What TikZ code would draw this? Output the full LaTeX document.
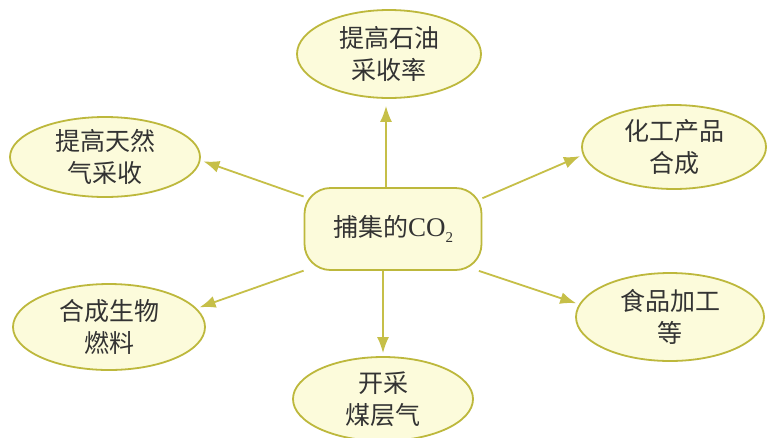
\documentclass[tikz,border=0pt]{standalone}
\usepackage{fontspec}
\setmainfont{Liberation Serif}
\newfontfamily\cjk{Noto Sans CJK SC}
\usetikzlibrary{shapes.geometric,arrows.meta,calc}
\definecolor{edge}{HTML}{BDB83C}
\definecolor{arrowc}{HTML}{C6BF48}
\definecolor{fillc}{HTML}{FCFBDB}
\definecolor{txt}{HTML}{333333}
\tikzset{
  bubble/.style={ellipse, draw=edge, fill=fillc, line width=1.8pt, inner sep=0pt,
    align=center, text=txt, font=\cjk\fontsize{25}{32}\selectfont},
  hub/.style={rectangle, rounded corners=26pt, draw=edge, fill=fillc, line width=1.8pt,
    minimum width=177pt, minimum height=82pt, inner sep=0pt, text=txt,
    font=\cjk\fontsize{25}{32}\selectfont},
  arr/.style={draw=arrowc, line width=1.8pt, -{Latex[length=16pt,width=12pt]}, shorten >=3pt}
}
\begin{document}
\begin{tikzpicture}[x=1pt,y=-1pt]
\useasboundingbox[fill=white] (0,0) rectangle (767,437);
\node[hub] (c) at (393,229) {捕集的{\rmfamily\fontsize{27}{32}\selectfont CO}\raisebox{-6pt}{\rmfamily\fontsize{15}{15}\selectfont 2}};
\node[bubble, minimum width=184pt, minimum height=88pt] (top) at (389,54) {提高石油\\采收率};
\node[bubble, minimum width=190pt, minimum height=80pt] (ul) at (105,157) {提高天然\\气采收};
\node[bubble, minimum width=184pt, minimum height=84pt] (ur) at (674,147) {化工产品\\合成};
\node[bubble, minimum width=192pt, minimum height=86pt] (ll) at (109,327) {合成生物\\燃料};
\node[bubble, minimum width=188pt, minimum height=88pt] (lr) at (670,317) {食品加工\\等};
\node[bubble, minimum width=180pt, minimum height=84pt] (bot) at (383,399) {开采\\煤层气};
\draw[arr, shorten >=7pt] ([xshift=-7pt]c.north) -- ([xshift=-7pt]c.north |- top.south);
\draw[arr] ([xshift=-10pt]c.south) -- ([xshift=-10pt]c.south |- bot.north);
\draw[arr] (c.160) -- (ul.-2);
\draw[arr] (c.19) -- (ur.185);
\draw[arr] (c.205) -- (ll.12);
\draw[arr] (c.-26) -- (lr.172);
\end{tikzpicture}
\end{document}
